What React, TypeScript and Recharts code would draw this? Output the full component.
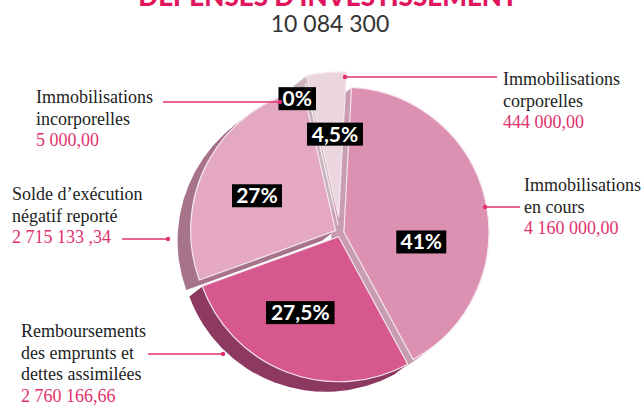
import { PieChart, Pie, Cell } from 'recharts'

// chart data
const title = "DÉPENSES D'INVESTISSEMENT"
const totalLabel = '10 084 300'
const categories = [
  'Immobilisations en cours',
  'Remboursements des emprunts et dettes assimilées',
  'Solde d’exécution négatif reporté',
  'Immobilisations incorporelles',
  'Immobilisations corporelles',
]
const amounts = [4160000, 2760166.66, 2715133.34, 5000, 444000]
const percentLabels = ['41%', '27,5%', '27%', '0%', '4,5%']
const amountLabels = ['4 160 000,00', '2 760 166,66', '2 715 133 ,34', '5 000,00', '444 000,00']
const nameLines = [
  ['Immobilisations', 'en cours'],
  ['Remboursements', 'des emprunts et', 'dettes assimilées'],
  ['Solde d’exécution', 'négatif reporté'],
  ['Immobilisations', 'incorporelles'],
  ['Immobilisations', 'corporelles'],
]

// styling
const faceColors = ['#dd91b2', '#d7588f', '#e4a8c3', '#e9cbd9', '#ebd5df']
const depthColors = ['#c99db1', '#8d3a62', '#a7748b', '#c4b0ba', '#c8b4be']
const explode = [4, 4, 5, 8, 16]
const labelDist = [78, 85, 86, 133, 83]
const labelTurn = [-20, -6, 4.6, 5, -2.4]
const PINK = '#e0306e'
const W = 644
const H = 407
const CX = 340
const CY = 233
const R = 145
const START = 87
const DEPTH_DX = -13
const DEPTH_DY = 10
const DEPTH_STEPS = 10

// callout layout: text x, first baseline, leader y, leader from/to, dot x
const callouts = [
  { x: 524, y: 191, ly: 207, x1: 485, x2: 520, dot: 485 },
  { x: 21, y: 337, ly: 354, x1: 148, x2: 223, dot: 223 },
  { x: 12, y: 200, ly: 239, x1: 122, x2: 168, dot: 168 },
  { x: 36, y: 103, ly: 102, x1: 163, x2: 280, dot: 280 },
  { x: 503, y: 85, ly: 77, x1: 345, x2: 497, dot: 345 },
]

const chartData = categories.map((name, i) => ({ name, value: amounts[i] }))
const total = amounts.reduce((a, b) => a + b, 0)
const RAD = Math.PI / 180

const midAngles = amounts.map((v, i) => {
  const before = amounts.slice(0, i).reduce((a, b) => a + b, 0)
  return START - ((before + v / 2) / total) * 360
})

const sliceCenter = (i: number) => ({
  x: CX + Math.cos(midAngles[i] * RAD) * explode[i],
  y: CY - Math.sin(midAngles[i] * RAD) * explode[i],
})

const boxWidth = (s: string) => {
  let w = 8
  for (const ch of s) w += ch === '%' ? 17 : ch === ',' ? 6 : 12.5
  return w
}

const renderLabel = (target: number) => (props: any) => {
  const { cx, cy, midAngle, index } = props
  if (index !== target) return null
  const a = (midAngle + labelTurn[index]) * RAD
  const x = cx + Math.cos(a) * labelDist[index]
  const y = cy - Math.sin(a) * labelDist[index]
  const text = percentLabels[index]
  const bw = boxWidth(text)
  return (
    <g key={`lbl-${index}`}>
      <rect x={x - bw / 2} y={y - 11.5} width={bw} height={23} fill="#000" />
      <text
        x={x}
        y={y + 7.5}
        textAnchor="middle"
        fill="#fff"
        fontFamily="Lato, 'Open Sans', sans-serif"
        fontWeight={700}
        fontSize={21}
      >
        {text}
      </text>
    </g>
  )
}

const depthOrder = [4, 3, 2, 0, 1]

export default function App() {
  const depthPies: any[] = []
  depthOrder.forEach((i) => {
    const c = sliceCenter(i)
    for (let s = DEPTH_STEPS; s >= 1; s--) {
      const t = s / DEPTH_STEPS
      depthPies.push(
        <Pie
          key={`d-${i}-${s}`}
          data={chartData}
          dataKey="value"
          cx={c.x + DEPTH_DX * t}
          cy={c.y + DEPTH_DY * t}
          outerRadius={R}
          startAngle={START}
          endAngle={START - 360}
          stroke="none"
          isAnimationActive={false}
        >
          {chartData.map((_, j) => (
            <Cell key={j} fill={j === i ? depthColors[i] : 'none'} stroke="none" />
          ))}
        </Pie>
      )
    }
  })

  const facePies = depthOrder.map((i) => {
    const c = sliceCenter(i)
    return (
      <Pie
        key={`f-${i}`}
        data={chartData}
        dataKey="value"
        cx={c.x}
        cy={c.y}
        outerRadius={R}
        startAngle={START}
        endAngle={START - 360}
        isAnimationActive={false}
        labelLine={false}
        label={renderLabel(i)}
      >
        {chartData.map((_, j) => (
          <Cell
            key={j}
            fill={j === i ? faceColors[i] : 'none'}
            stroke={j === i ? '#f5e6ed' : 'none'}
            strokeWidth={1.2}
          />
        ))}
      </Pie>
    )
  })

  return (
    <div style={{ position: 'absolute', left: 0, top: 0, width: W, height: H, background: '#fff' }}>
      <PieChart width={W} height={H} margin={{ top: 0, right: 0, bottom: 0, left: 0 }}>
        {depthPies}
        {facePies}
      </PieChart>
      <svg
        width={W}
        height={H}
        style={{ position: 'absolute', left: 0, top: 0, pointerEvents: 'none' }}
      >
        {/* title is cut off by the top edge in the reference */}
        <text
          x={328}
          y={6}
          textAnchor="middle"
          fill="#e0155c"
          fontFamily="Lato, sans-serif"
          fontWeight={900}
          fontSize={26}
        >
          {title}
        </text>
        <text x={330} y={32} textAnchor="middle" fill="#333" fontFamily="Lato, sans-serif" fontSize={23}>
          {totalLabel}
        </text>
        {callouts.map((c, i) => (
          <g key={i}>
            <line x1={c.x1} x2={c.x2} y1={c.ly} y2={c.ly} stroke={PINK} strokeWidth={1.3} />
            <circle cx={c.dot} cy={c.ly} r={2.2} fill={PINK} />
            {nameLines[i].map((ln, k) => (
              <text
                key={k}
                x={c.x}
                y={c.y + k * 21.7}
                fill="#222"
                fontFamily="'Liberation Serif', serif"
                fontSize={18}
              >
                {ln}
              </text>
            ))}
            <text
              x={c.x}
              y={c.y + nameLines[i].length * 21.7}
              fill={PINK}
              fontFamily="'Liberation Serif', serif"
              fontSize={18}
            >
              {amountLabels[i]}
            </text>
          </g>
        ))}
      </svg>
    </div>
  )
}
